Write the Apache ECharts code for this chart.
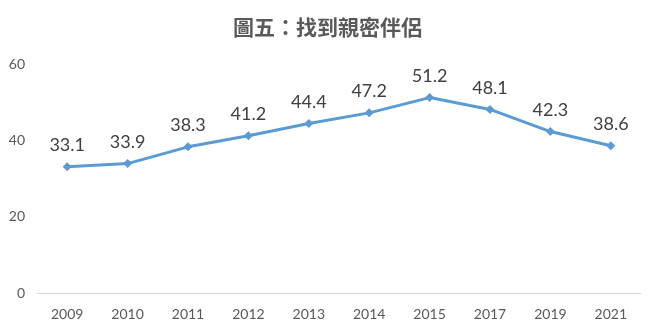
<!DOCTYPE html>
<html>
<head>
<meta charset="utf-8">
<script src="https://cdn.jsdelivr.net/npm/echarts@6/dist/echarts.min.js"></script>
<style>
html,body{margin:0;padding:0;background:#fff;}
#chart{width:655px;height:330px;}
</style>
</head>
<body>
<div id="chart"></div>
<script>
// Share of respondents who found an intimate partner, by survey year
const years = ['2009','2010','2011','2012','2013','2014','2015','2017','2019','2021'];
const values = [33.1, 33.9, 38.3, 41.2, 44.4, 47.2, 51.2, 48.1, 42.3, 38.6];
const yTicks = [0, 20, 40, 60];

const chart = echarts.init(document.getElementById('chart'));
chart.setOption({
  animation: false,
  title: {
    text: '圖五：找到親密伴侶',
    left: 'center',
    top: 12,
    textStyle: {
      fontFamily: '"Noto Sans CJK TC", sans-serif',
      fontSize: 21,
      fontWeight: 'bold',
      color: '#595959'
    }
  },
  grid: { left: 37, right: 14, top: 64, bottom: 37 },
  xAxis: {
    type: 'category',
    data: years,
    boundaryGap: true,
    axisLine: { lineStyle: { color: '#d9d9d9', width: 1 } },
    axisTick: { show: false },
    axisLabel: { color: '#595959', fontSize: 14, margin: 14, fontFamily: 'Lato, sans-serif' }
  },
  yAxis: {
    type: 'value',
    min: yTicks[0],
    max: yTicks[yTicks.length - 1],
    interval: 20,
    splitLine: { show: false },
    axisLine: { show: false },
    axisTick: { show: false },
    axisLabel: { color: '#595959', fontSize: 14, margin: 12, fontFamily: 'Lato, sans-serif' }
  },
  series: [{
    type: 'line',
    data: values,
    symbol: 'diamond',
    symbolSize: 9,
    itemStyle: { color: '#5B9BD5' },
    lineStyle: { color: '#5B9BD5', width: 3 },
    label: {
      show: true,
      position: 'top',
      distance: 8,
      color: '#404040',
      fontSize: 18,
      fontFamily: 'Lato, sans-serif'
    }
  }]
});
</script>
</body>
</html>
